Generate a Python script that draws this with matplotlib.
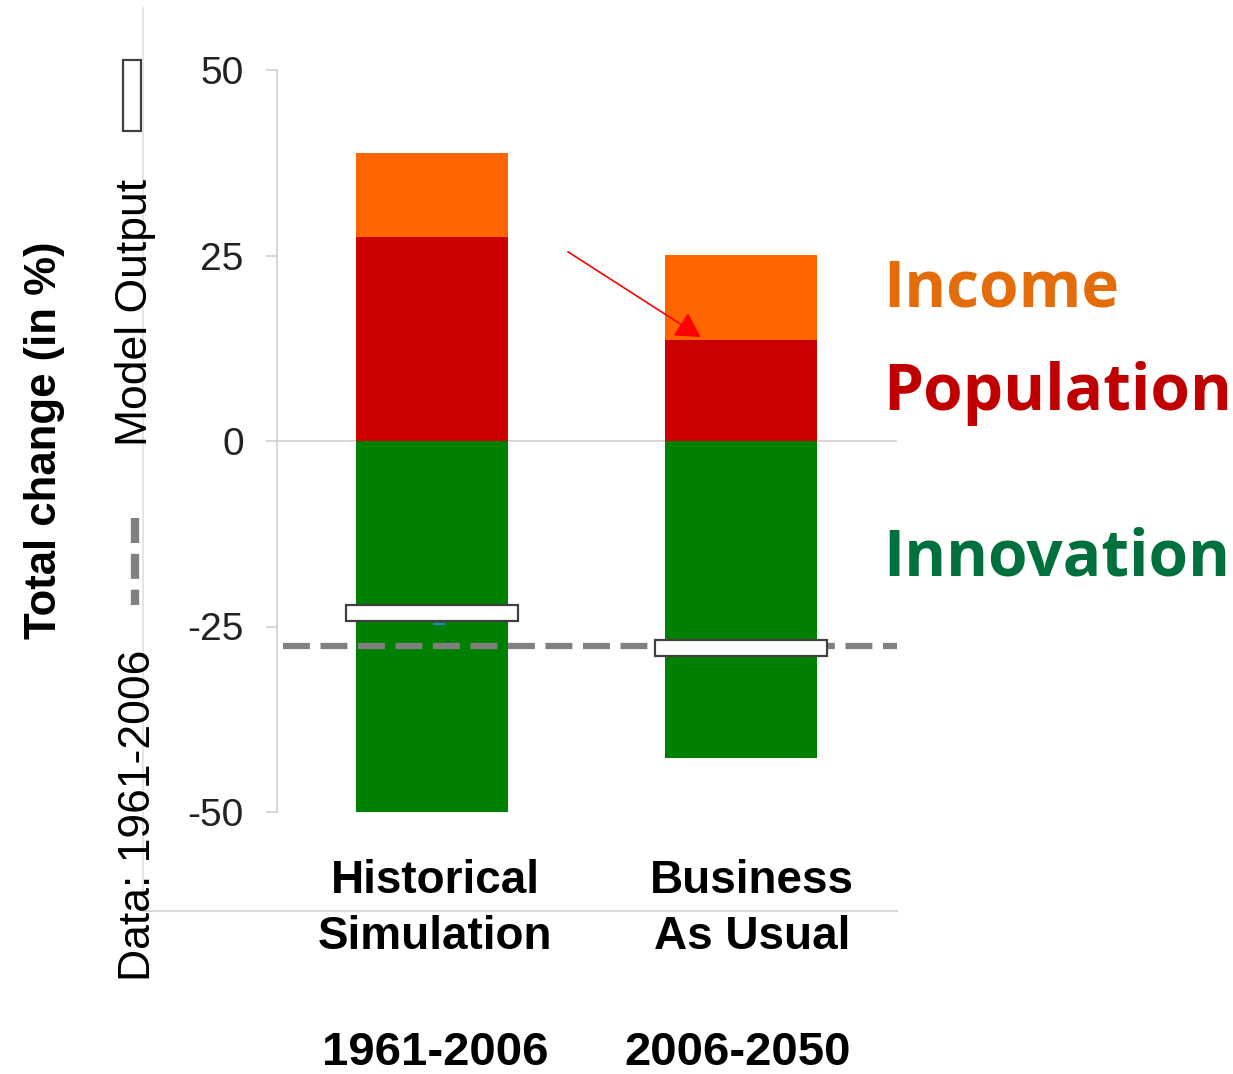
import matplotlib.pyplot as plt
from matplotlib.lines import Line2D
from matplotlib.patches import Rectangle

# stacked contributions per scenario (% change)
scenarios = ["Historical\nSimulation", "Business\nAs Usual"]
periods = ["1961-2006", "2006-2050"]
innovation = [-50.0, -42.7]
population = [27.5, 13.6]
income = [11.3, 11.5]
model_output = [-23.2, -27.9]
data_hist = -27.6

orange = "#FF6600"
red = "#CC0000"
green = "#008000"
grid_grey = "#D0D0D0"

plt.rcParams["font.family"] = ["Liberation Sans", "DejaVu Sans"]

fig = plt.figure(figsize=(12.33, 10.74), dpi=100)
ax = fig.add_axes([277 / 1233, 1 - 812 / 1074, 620 / 1233, 742 / 1074])

x = [0, 1]
w = 0.489
ax.bar(x, innovation, width=w, color=green, zorder=2)
ax.bar(x, population, width=w, color=red, zorder=2)
ax.bar(x, income, width=w, bottom=population, color=orange, zorder=2)

# model output markers
for xi, v in zip(x, model_output):
    ax.add_patch(Rectangle((xi - 0.278, v - 1.05), 0.556, 2.1, facecolor="white",
                           edgecolor="#404040", linewidth=1.6, zorder=4))
# small blue tick below the first marker
ax.plot([0.005, 0.04], [model_output[0] - 1.5] * 2, color="#4472C4", lw=1.5, zorder=3)

# observed value 1961-2006
ax.axhline(data_hist, xmin=0.01, xmax=1, color="#808080", linewidth=4.5,
           linestyle=(0, (4.3, 1.7)), zorder=3)
ax.axhline(0, color=grid_grey, linewidth=1.2, zorder=1)

ax.annotate("", xy=(0.87, 14.0), xytext=(0.44, 25.5),
            arrowprops=dict(arrowstyle="-|>,head_length=0.45,head_width=0.25",
                            color="#FF0000", lw=1.2,
                            mutation_scale=34, shrinkA=0, shrinkB=0), zorder=5)

ax.set_xlim(-0.5016, 1.505)
ax.set_ylim(-50, 50)
ax.set_yticks([-50, -25, 0, 25, 50])
ax.set_yticklabels(["-50", "-25", "0", "25", "50"])
ax.tick_params(axis="y", direction="out", length=8, width=1.2, color=grid_grey,
               labelsize=28, labelcolor="#222222", pad=16)
ax.set_xticks([])
for s in ["top", "right", "bottom"]:
    ax.spines[s].set_visible(False)
ax.spines["left"].set_color(grid_grey)
ax.spines["left"].set_linewidth(1.2)

# category and period labels
for xi, lab in zip([435, 752], scenarios):
    fig.text(xi / 1233, 1 - 909 / 1074, lab, ha="center", va="center",
             fontsize=33, fontweight="bold", linespacing=1.37)
for xi, per in zip([435, 738], periods):
    fig.text(xi / 1233, 1 - 1053 / 1074, per, ha="center", va="center",
             fontsize=34, fontweight="bold")

# outer frame lines
fig.add_artist(Line2D([143 / 1233, 143 / 1233], [1 - 8 / 1074, 1 - 911 / 1074],
                      color="#E0E0E0", linewidth=1.2))
fig.add_artist(Line2D([143 / 1233, 897 / 1233], [1 - 911 / 1074, 1 - 911 / 1074],
                      color="#D8D8D8", linewidth=1.5))

# axis title and rotated legend
fig.text(45 / 1233, 1 - 440 / 1074, "Total change (in %)", rotation=90,
         ha="center", va="center", fontsize=31.5, fontweight="bold")
fig.text(135 / 1233, 1 - 312 / 1074, "Model Output", rotation=90,
         ha="center", va="center", fontsize=32)
fig.text(138 / 1233, 1 - 815 / 1074, "Data: 1961-2006", rotation=90,
         ha="center", va="center", fontsize=32)
fig.add_artist(Rectangle((123 / 1233, 1 - 131 / 1074), 18 / 1233, 71 / 1074,
                         facecolor="white", edgecolor="#404040", linewidth=1.6))
fig.add_artist(Line2D([135 / 1233, 135 / 1233], [1 - 518 / 1074, 1 - 605 / 1074],
                      color="#808080", linewidth=6, linestyle=(0, (3, 1.3))))

# driver labels
drivers = [("Income", "#E46C0A", 290), ("Population", "#C00000", 394),
           ("Innovation", "#00703C", 559)]
for name, col, y in drivers:
    fig.text(883 / 1233, 1 - y / 1074, name, ha="left", va="center",
             fontsize=46, fontweight="bold", color=col, family=["Open Sans", "DejaVu Sans"])

fig.savefig("out.png", dpi=100)
